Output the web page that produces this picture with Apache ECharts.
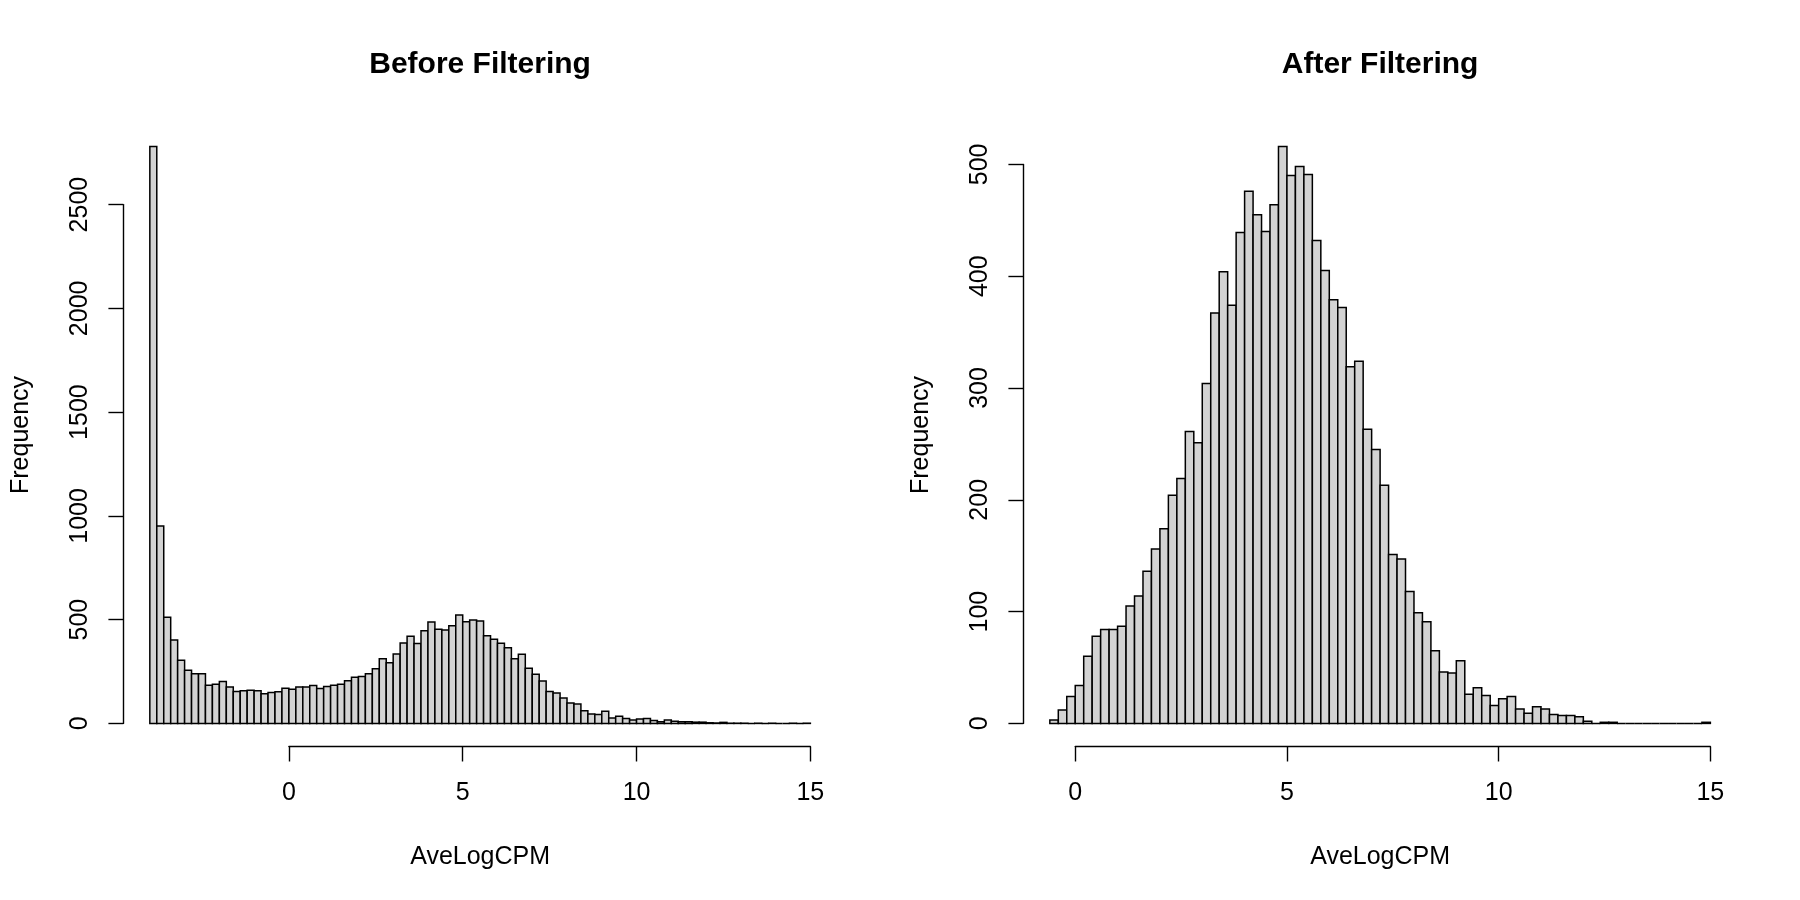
<!DOCTYPE html>
<html>
<head>
<meta charset="utf-8">
<title>AveLogCPM before / after filtering</title>
<script src="https://cdn.jsdelivr.net/npm/echarts@6.0.0/dist/echarts.min.js"></script>
<style>
  html, body { margin: 0; padding: 0; background: #fff; }
</style>
</head>
<body>
<div id="main" style="width:1800px;height:900px;"></div>
<script>
// histogram counts, one value per 0.2-wide bin
var binWidth = 0.2;

var beforeStart = -4.0;
var beforeCounts = [
  2780, 951, 511, 402, 304, 256, 239, 239, 184, 189,
  202, 175, 154, 157, 160, 157, 143, 149, 152, 170,
  165, 176, 176, 183, 168, 178, 184, 189, 205, 223,
  226, 239, 263, 311, 292, 335, 388, 420, 385, 447,
  489, 454, 450, 471, 522, 490, 498, 494, 423, 405,
  386, 365, 312, 333, 266, 237, 204, 154, 147, 122,
  98, 93, 61, 45, 43, 59, 26, 34, 24, 16,
  21, 24, 14, 8, 16, 11, 8, 8, 6, 6,
  3, 2, 5, 1, 1, 1, 0, 1, 0, 1,
  0, 0, 1, 0, 1
];

var afterStart = -0.6;
var afterCounts = [
  3, 12, 24, 34, 60, 78, 84, 84, 87, 105,
  114, 136, 156, 174, 204, 219, 261, 251, 304, 367,
  404, 374, 439, 476, 455, 440, 464, 516, 490, 498,
  491, 432, 405, 379, 372, 319, 324, 263, 245, 213,
  151, 147, 118, 99, 91, 65, 46, 45, 56, 26,
  32, 25, 16, 22, 24, 13, 9, 15, 13, 8,
  7, 7, 6, 2, 0, 1, 1, 0, 0, 0,
  0, 0, 0, 0, 0, 0, 0, 1
];

var xTicks = [0, 5, 10, 15];
var beforeYTicks = [0, 500, 1000, 1500, 2000, 2500];
var afterYTicks = [0, 100, 200, 300, 400, 500];
var titles = ['Before Filtering', 'After Filtering'];
var xName = 'AveLogCPM';
var yName = 'Frequency';

var FONT = '"Liberation Sans", Arial, Helvetica, sans-serif';
var LINE = 30.1;      // one R margin line in px
var PANEL_W = 900;

// R-like layout: plot region from the margins, 4% padding on both axes
function layout(i, start, counts, yTicks) {
  var x0 = i * PANEL_W;
  var plot = { l: x0 + 4.1 * LINE, r: x0 + PANEL_W - 2.1 * LINE, t: 4.1 * LINE, b: 900 - 5.1 * LINE };
  var end = start + counts.length * binWidth;
  var ux = [start - 0.04 * (end - start), end + 0.04 * (end - start)];
  var ymax = Math.max.apply(null, counts);
  var uy = [-0.04 * ymax, 1.04 * ymax];
  var px = function (v) { return plot.l + (v - ux[0]) / (ux[1] - ux[0]) * (plot.r - plot.l); };
  var py = function (v) { return plot.b - (v - uy[0]) / (uy[1] - uy[0]) * (plot.b - plot.t); };
  var xa = xTicks[0], xb = xTicks[xTicks.length - 1];
  var ya = yTicks[0], yb = yTicks[yTicks.length - 1];
  return {
    plot: plot,
    grid: { left: px(xa), top: py(yb), width: px(xb) - px(xa), height: py(ya) - py(yb) },
    xOffset: plot.b - py(ya),
    yOffset: px(xa) - plot.l
  };
}

function bins(start, counts) {
  return counts.map(function (c, k) {
    return [+(start + k * binWidth).toFixed(1), +(start + (k + 1) * binWidth).toFixed(1), c];
  });
}

var panels = [
  { start: beforeStart, counts: beforeCounts, yTicks: beforeYTicks },
  { start: afterStart, counts: afterCounts, yTicks: afterYTicks }
];

var axisLineStyle = { color: '#000', width: 1.4 };
var labelStyle = { fontSize: 25, color: '#000', fontFamily: FONT,
                   formatter: function (v) { return String(v); } };

var grids = [], xAxes = [], yAxes = [], series = [], graphics = [];

panels.forEach(function (p, i) {
  var L = layout(i, p.start, p.counts, p.yTicks);
  var ya = p.yTicks[0], yb = p.yTicks[p.yTicks.length - 1];

  grids.push({ left: L.grid.left, top: L.grid.top, width: L.grid.width, height: L.grid.height,
               containLabel: false, outerBoundsMode: 'none' });

  xAxes.push({
    gridIndex: i, type: 'value', position: 'bottom', offset: L.xOffset,
    min: xTicks[0], max: xTicks[xTicks.length - 1], interval: 5,
    axisLine: { show: true, onZero: false, lineStyle: axisLineStyle },
    axisTick: { show: true, length: 15, lineStyle: axisLineStyle },
    axisLabel: Object.assign({ margin: 34, showMinLabel: true, showMaxLabel: true }, labelStyle),
    splitLine: { show: false }
  });

  yAxes.push({
    gridIndex: i, type: 'value', position: 'left', offset: L.yOffset,
    min: ya, max: yb, interval: p.yTicks[1] - p.yTicks[0],
    axisLine: { show: true, onZero: false, lineStyle: axisLineStyle },
    axisTick: { show: true, length: 15, lineStyle: axisLineStyle },
    axisLabel: Object.assign({ margin: 31, rotate: 90, showMinLabel: true, showMaxLabel: true }, labelStyle),
    splitLine: { show: false }
  });

  series.push({
    type: 'custom',
    xAxisIndex: i, yAxisIndex: i,
    clip: false,
    silent: true,
    data: bins(p.start, p.counts),
    encode: { x: [0, 1], y: 2 },
    renderItem: function (params, api) {
      var p0 = api.coord([api.value(0), 0]);
      var p1 = api.coord([api.value(1), api.value(2)]);
      return {
        type: 'rect',
        shape: { x: p0[0], y: p1[1], width: p1[0] - p0[0], height: p0[1] - p1[1] },
        style: { fill: '#d3d3d3', stroke: '#000', lineWidth: 1.5 }
      };
    }
  });

  var cx = (L.plot.l + L.plot.r) / 2;
  var cy = (L.plot.t + L.plot.b) / 2;
  graphics.push({
    type: 'text', x: cx, y: 65,
    style: { text: titles[i], font: 'bold 30px ' + FONT, fill: '#000',
             align: 'center', verticalAlign: 'middle', textAlign: 'center', textVerticalAlign: 'middle' }
  });
  graphics.push({
    type: 'text', x: cx, y: L.plot.b + 3 * LINE + 20,
    style: { text: xName, font: '25px ' + FONT, fill: '#000',
             align: 'center', verticalAlign: 'middle', textAlign: 'center', textVerticalAlign: 'middle' }
  });
  graphics.push({
    type: 'text', x: L.plot.l - 3 * LINE - 12, y: cy, rotation: Math.PI / 2,
    style: { text: yName, font: '25px ' + FONT, fill: '#000',
             align: 'center', verticalAlign: 'middle', textAlign: 'center', textVerticalAlign: 'middle' }
  });
});

var myChart = echarts.init(document.getElementById('main'));
myChart.setOption({
  animation: false,
  backgroundColor: '#fff',
  grid: grids,
  xAxis: xAxes,
  yAxis: yAxes,
  series: series,
  graphic: graphics
});
</script>
</body>
</html>
